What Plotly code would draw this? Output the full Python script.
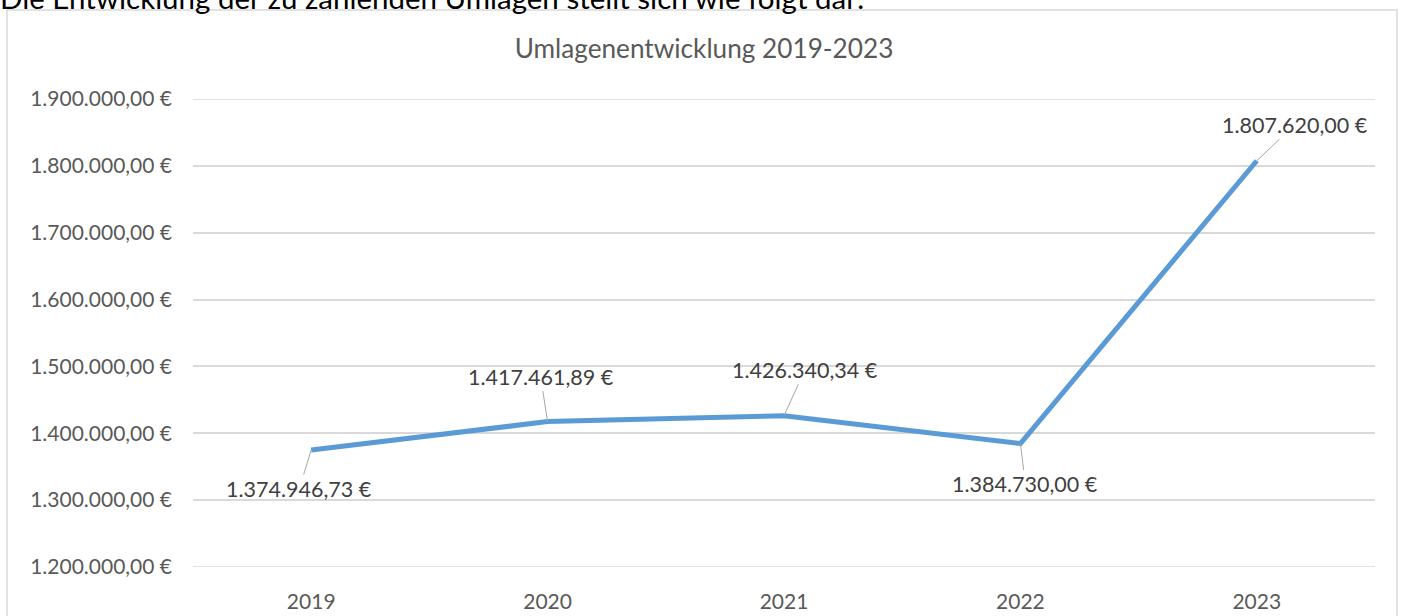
import plotly.graph_objects as go

years = ["2019", "2020", "2021", "2022", "2023"]
values = [1374946.73, 1417461.89, 1426340.34, 1384730.00, 1807620.00]
label_dx = [-12, -7, 21, 5, 38]
label_dy = [39, -45, -46, 41, -36]
ytick_vals = [1200000, 1300000, 1400000, 1500000, 1600000, 1700000, 1800000, 1900000]

def de_fmt(v):
    s = f"{v:,.2f}"
    s = s.replace(",", "X").replace(".", ",").replace("X", ".")
    return s + " €"

FONT = "Lato, 'Liberation Sans', sans-serif"
GRAY = "#595959"
GRID = "#D9D9D9"

fig = go.Figure()
fig.add_trace(go.Scatter(
    x=years, y=values, mode="lines",
    line=dict(color="#5B9BD5", width=5),
    hoverinfo="skip", showlegend=False,
))

annotations = []
for i, (v, dx, dy) in enumerate(zip(values, label_dx, label_dy)):
    annotations.append(dict(
        x=i, y=v, xref="x", yref="y", text=de_fmt(v),
        showarrow=True, arrowhead=0, arrowwidth=1, arrowcolor="#A6A6A6",
        ax=dx, ay=dy, font=dict(family=FONT, size=21.5, color="#404040"),
        standoff=0, startstandoff=0,
    ))

annotations.append(dict(
    x=(-2 - 193) / 1182, y=1 + (99 - 17) / 468, xref="paper", yref="paper",
    xanchor="left", yanchor="bottom",
    text="Die Entwicklung der zu zahlenden Umlagen stellt sich wie folgt dar:",
    showarrow=False, font=dict(family=FONT, size=29.5, color="#000000"),
))

shapes = [dict(
    type="rect", xref="paper", yref="paper",
    x0=(7 - 193) / 1182, x1=(1397 - 193) / 1182,
    y0=-0.3, y1=1 + (99 - 10) / 468,
    line=dict(color=GRID, width=1.5), fillcolor="rgba(0,0,0,0)",
    layer="below",
)]
for yv in (ytick_vals[0], ytick_vals[-1]):
    shapes.append(dict(type="line", xref="paper", yref="y", x0=0, x1=1,
                       y0=yv, y1=yv, line=dict(color=GRID, width=1.5),
                       layer="below"))

fig.update_layout(
    width=1408, height=616,
    margin=dict(l=193, r=33, t=99, b=49),
    paper_bgcolor="white", plot_bgcolor="white",
    title=dict(text="Umlagenentwicklung 2019-2023", x=0.5, xanchor="center",
               y=1 - 49 / 616, yanchor="middle",
               font=dict(family=FONT, size=26.2, color=GRAY)),
    xaxis=dict(
        type="category", range=[-0.5, 4.5], showgrid=False,
        showline=False, ticks="", ticklabelstandoff=20, automargin=False,
        tickfont=dict(family=FONT, size=21, color=GRAY),
    ),
    yaxis=dict(
        range=[ytick_vals[0], ytick_vals[-1]], tickvals=ytick_vals,
        ticktext=[de_fmt(v) for v in ytick_vals],
        showgrid=True, gridcolor=GRID, gridwidth=1.5,
        zeroline=False, showline=False, ticks="",
        ticklabelstandoff=20, automargin=False,
        tickfont=dict(family=FONT, size=21, color=GRAY),
    ),
    annotations=annotations,
    shapes=shapes,
)

fig.write_html("out.html", config={"displayModeBar": False},
               post_script="document.body.style.margin='0px';")
